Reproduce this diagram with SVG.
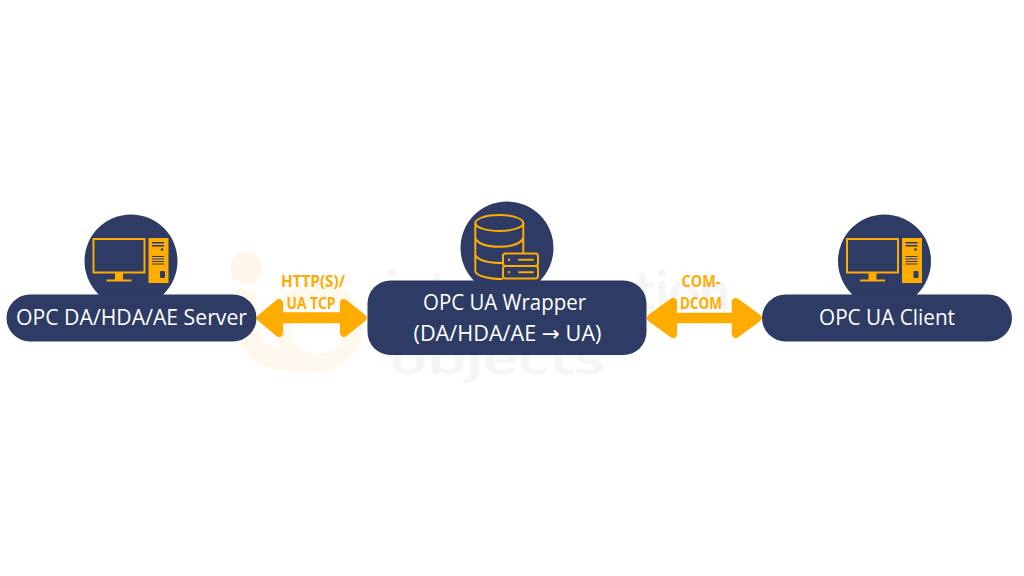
<svg xmlns="http://www.w3.org/2000/svg" width="1024" height="576" viewBox="0 0 1024 576">
<style>
.n{fill:#2d3b65}
.t{font-family:"Open Sans","Noto Sans",sans-serif;font-size:21px;fill:#fff;text-anchor:middle}
.l{font-family:"Open Sans","Noto Sans",sans-serif;font-weight:700;font-size:15.500px;fill:#ffac00;text-anchor:middle}
.a{fill:#ffac00;stroke:#ffac00;stroke-width:8;stroke-linejoin:round}
.s{fill:none;stroke:#ffac00;stroke-width:2}
.c{fill:none;stroke:#ffac00;stroke-width:2;stroke-linecap:round}
.f{fill:#ffac00}
.d{fill:#2d3b65}
.wm{font-family:"Nunito","Open Sans","Noto Sans",sans-serif;font-weight:700;fill:#f5f5f5}
.lg{fill:none;stroke:#fef8ee}
</style>
<defs>
<g id="pc">
<rect class="s" x="93.500" y="239" width="51" height="33.500"/>
<rect class="f" x="115" y="273" width="8" height="7"/>
<rect class="f" x="106.500" y="279.500" width="25" height="2"/>
<rect class="f" x="148.500" y="238" width="20" height="45"/>
<rect class="d" x="152" y="242" width="12" height="1.500"/>
<rect class="d" x="152" y="245" width="12" height="1.500"/>
<circle class="d" cx="162" cy="249.500" r="1.300"/>
<rect class="d" x="152" y="256" width="12" height="1"/>
<rect class="d" x="152" y="258.500" width="12" height="1"/>
<rect class="d" x="152" y="261" width="12" height="1"/>
<rect class="d" x="152" y="263.500" width="12" height="1"/>
<rect class="d" x="160" y="271" width="5" height="7" rx="1"/>
</g>
</defs>
<rect width="1024" height="576" fill="#fff"/>
<g id="watermark">
<circle cx="246" cy="268" r="16" fill="#fef6ea"/>
<path class="lg" stroke-width="22" d="M245 290V320Q246 361 300 361"/>
<circle class="lg" stroke-width="18" cx="318" cy="327" r="36"/>
<text class="wm" x="385" y="310" font-size="58" textLength="345" lengthAdjust="spacingAndGlyphs">iotautomation</text>
<text class="wm" x="390" y="374" font-size="50" textLength="215" lengthAdjust="spacingAndGlyphs">objects</text>
</g>
<g id="connectors">
<path class="a" d="M261 318L279 303V316.300H344V303L362.700 318L344 333V319.300H279V333Z"/>
<path class="a" d="M651 318L673 302V316.700H735.700V302L757.700 318L735.700 334V319.300H673V334Z"/>
</g>
<g id="node-server">
<circle class="n" cx="131" cy="261" r="46.500"/>
<rect class="n" x="6.500" y="294.500" width="250" height="47" rx="23.500"/>
<use href="#pc"/>
<text class="t" x="131.500" y="325" textLength="231" lengthAdjust="spacingAndGlyphs">OPC DA/HDA/AE Server</text>
</g>
<g id="node-wrapper">
<circle class="n" cx="507" cy="248" r="46.500"/>
<rect class="n" x="367.500" y="280.500" width="279" height="74.500" rx="23"/>
<g id="db-icon">
<ellipse class="s" cx="499.300" cy="223" rx="24" ry="8"/>
<path class="s" d="M475.300 223V271C475.300 275 486 279 502.700 279M523.300 223V253M475.300 238C478 244 487 246.700 499.300 246.700C511.600 246.700 520.600 244 523.300 238M475.300 255C478 260 488 263 502.700 263"/>
<rect class="s" x="503" y="253.500" width="35" height="12.500" rx="2.500"/>
<rect class="s" x="503" y="266" width="35" height="12.500" rx="2.500"/>
<circle class="f" cx="509" cy="259.700" r="1.200"/>
<circle class="f" cx="509" cy="272.300" r="1.200"/>
<path class="c" d="M519 259.700H533M519 272.300H533"/>
</g>
<text class="t" x="504.500" y="310" textLength="163" lengthAdjust="spacingAndGlyphs">OPC UA Wrapper</text>
<text class="t" x="507.500" y="341" textLength="188" lengthAdjust="spacingAndGlyphs">(DA/HDA/AE <tspan font-family="DejaVu Sans">→</tspan> UA)</text>
</g>
<g id="node-client">
<circle class="n" cx="884.500" cy="261" r="46.500"/>
<rect class="n" x="762" y="294.500" width="250" height="47" rx="23.500"/>
<use href="#pc" x="753.500"/>
<text class="t" x="887" y="325" textLength="136" lengthAdjust="spacingAndGlyphs">OPC UA Client</text>
</g>
<g id="labels">
<text class="l" x="313" y="287" textLength="64" lengthAdjust="spacingAndGlyphs">HTTP(S)/</text>
<text class="l" x="311" y="308.500" textLength="49" lengthAdjust="spacingAndGlyphs">UA TCP</text>
<text class="l" x="701" y="286.500" textLength="39" lengthAdjust="spacingAndGlyphs">COM-</text>
<text class="l" x="701" y="308.500" textLength="42" lengthAdjust="spacingAndGlyphs">DCOM</text>
</g>
</svg>
